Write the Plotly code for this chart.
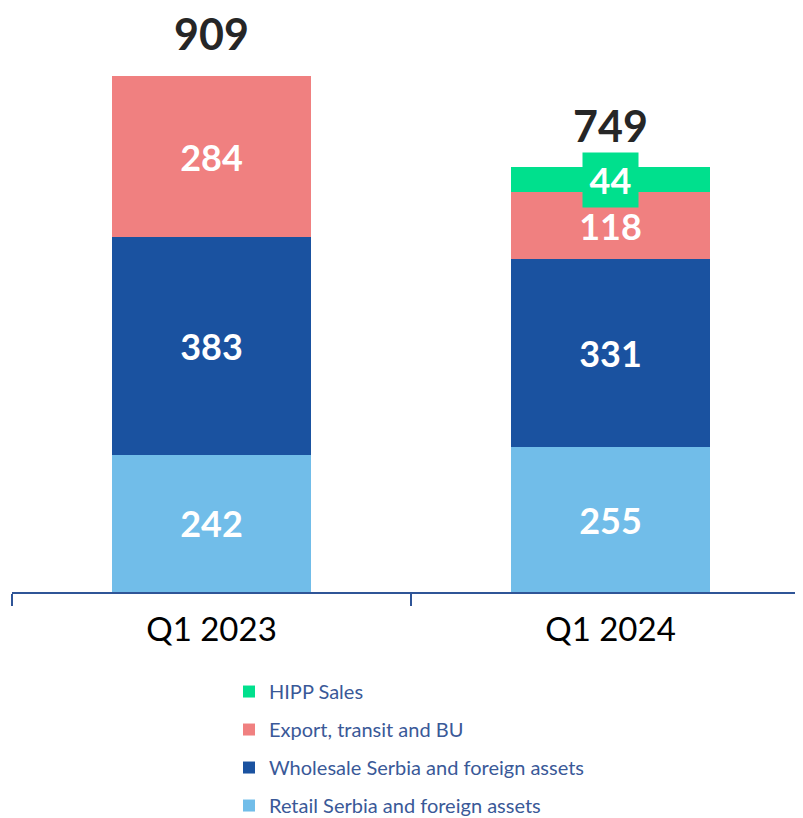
import plotly.graph_objects as go

categories = ["Q1 2023", "Q1 2024"]
retail = [242, 255]
wholesale = [383, 331]
export = [284, 118]
hipp = [None, 44]
totals = [909, 749]

series_names = ["Retail Serbia and foreign assets",
                "Wholesale Serbia and foreign assets",
                "Export, transit and BU",
                "HIPP Sales"]
series_values = [retail, wholesale, export, hipp]
colors = ["#71BDE9", "#1A52A0", "#F08080", "#00E08D"]
legend_ranks = [4, 3, 2, 1]

FONT = "Lato"

fig = go.Figure()
for name, vals, col, rank in zip(series_names, series_values, colors, legend_ranks):
    is_hipp = name == "HIPP Sales"
    fig.add_trace(go.Bar(
        x=categories, y=vals, name=name,
        marker=dict(color=col, line=dict(width=0)),
        text=None if is_hipp else [str(v) if v is not None else "" for v in vals],
        textposition="none" if is_hipp else "inside",
        insidetextanchor="middle",
        constraintext="none",
        textfont=dict(family=FONT, size=36, color="white", weight="bold"),
        legendgroup=name,
        legendrank=rank,
        width=0.501,
        hoverinfo="skip",
    ))

# label for the small HIPP segment (boxed)
base = [r + w + e for r, w, e in zip(retail, wholesale, export)]
for c, b, h in zip(categories, base, hipp):
    if h:
        fig.add_annotation(x=c, y=b + h / 2, text=str(h), showarrow=False,
                           font=dict(family=FONT, size=36, color="white", weight="bold"),
                           bgcolor=colors[3], width=55, height=54, borderpad=0,
                           xanchor="center", yanchor="middle")

# totals
shifts = [15, 14]
for c, t, s in zip(categories, totals, shifts):
    fig.add_annotation(x=c, y=t, text=str(t), showarrow=False,
                       font=dict(family=FONT, size=43, color="#262626", weight="bold"),
                       yanchor="bottom", yshift=s)

fig.update_layout(
    barmode="stack",
    width=803, height=818,
    margin=dict(l=4, r=1, t=2, b=234, autoexpand=False),
    plot_bgcolor="white", paper_bgcolor="white",
    showlegend=True,
    legend=dict(
        x=(229 - 12) / 798, xanchor="left",
        y=-0.1375, yanchor="top",
        traceorder="grouped",
        tracegroupgap=9,
        font=dict(family=FONT, size=20, color="#3A5998"),
        bgcolor="rgba(0,0,0,0)",
    ),
    xaxis=dict(
        showline=True, linecolor="#2F5597", linewidth=1.5,
        ticks="outside", tickson="boundaries", ticklen=12, tickcolor="#2F5597",
        tickwidth=1.5, ticklabelstandoff=8,
        tickfont=dict(family=FONT, size=33, color="black"),
        showgrid=False,
    ),
    yaxis=dict(range=[0, 1025.3], visible=False, showgrid=False),
)

fig.write_html("out.html")
